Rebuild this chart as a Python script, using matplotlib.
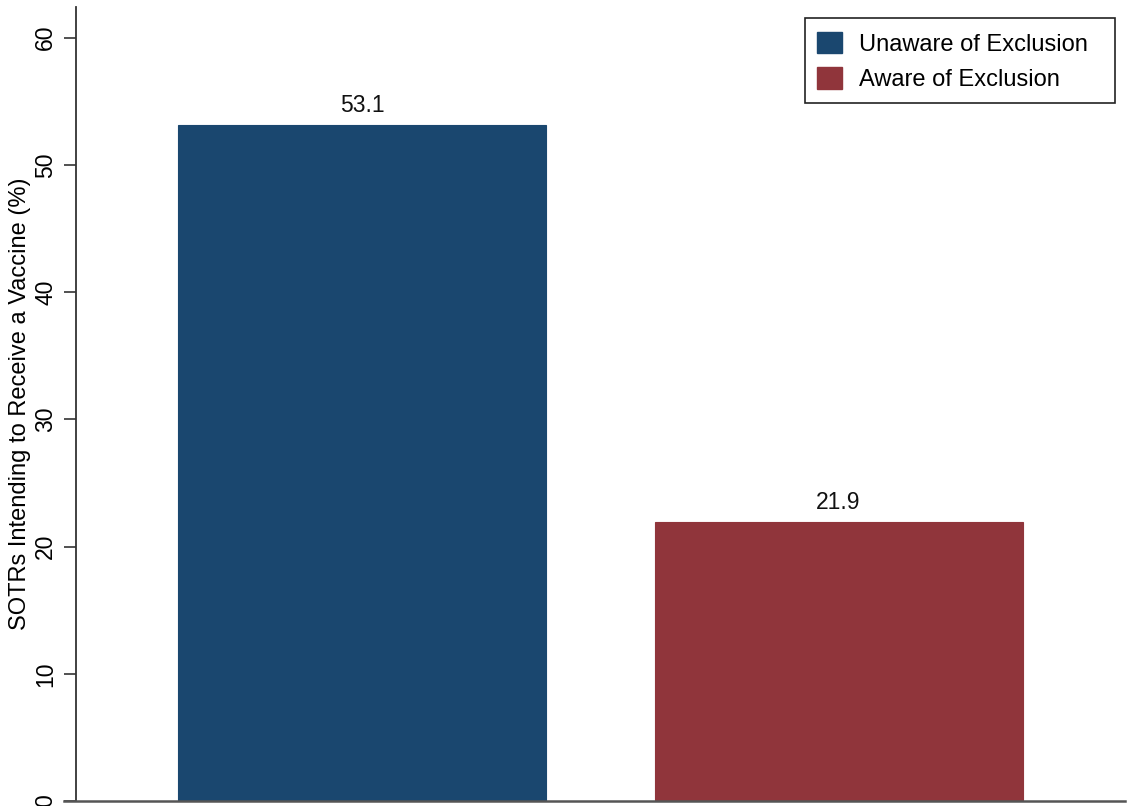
import matplotlib.pyplot as plt
from matplotlib.patches import Patch, Rectangle

groups = ["Unaware of Exclusion", "Aware of Exclusion"]
values = [53.1, 21.9]
colors = ["#1a476f", "#90353b"]
yticks = [0, 10, 20, 30, 40, 50, 60]

plt.rcParams["font.family"] = ["Liberation Sans", "DejaVu Sans"]

W, H = 1133, 806
fig = plt.figure(figsize=(W / 100, H / 100), dpi=100)
ax = fig.add_axes([76 / W, 5 / H, 1049 / W, 794 / H])

x = list(range(len(groups)))
ax.bar(x, values, width=0.772, color=colors, edgecolor=colors, linewidth=0.8)

for xi, v in zip(x, values):
    ax.annotate(f"{v:.1f}", (xi, v), xytext=(0, 6), textcoords="offset points",
                ha="center", va="bottom", fontsize=16.5, color="#111111")

ax.set_xlim(-0.6, 1.601)
ax.set_ylim(0, 62.4)
ax.set_yticks(yticks)
ax.set_yticklabels([str(t) for t in yticks], rotation=90, va="center", fontsize=16.5)
ax.set_xticks([])
ax.tick_params(axis="y", length=8.5, width=1.2, color="#333333", pad=5)
ax.set_ylabel("SOTRs Intending to Receive a Vaccine (%)", fontsize=17, labelpad=2)

for s in ["top", "right"]:
    ax.spines[s].set_visible(False)
ax.spines["left"].set_linewidth(1.3)
ax.spines["left"].set_color("#333333")
ax.spines["bottom"].set_linewidth(1.8)
ax.spines["bottom"].set_color("#555555")
ax.spines["bottom"].set_bounds(-0.6 - 12 / 476.5, 1.601)

# legend entries without frame, box drawn separately
handles = [Patch(facecolor=c, edgecolor=c) for c in colors]
leg = ax.legend(handles, groups, loc="upper left",
                bbox_to_anchor=(817 / W, 1 - 32 / H),
                bbox_transform=fig.transFigure, fontsize=17, frameon=False,
                handlelength=1.06, handleheight=1.0, handletextpad=0.72,
                borderpad=0, labelspacing=0.5, borderaxespad=0)
fig.patches.append(Rectangle((805 / W, 1 - 103 / H), 310 / W, 85 / H,
                             transform=fig.transFigure, fill=False,
                             edgecolor="#222222", linewidth=1.2))

fig.savefig("out.png", dpi=100)
